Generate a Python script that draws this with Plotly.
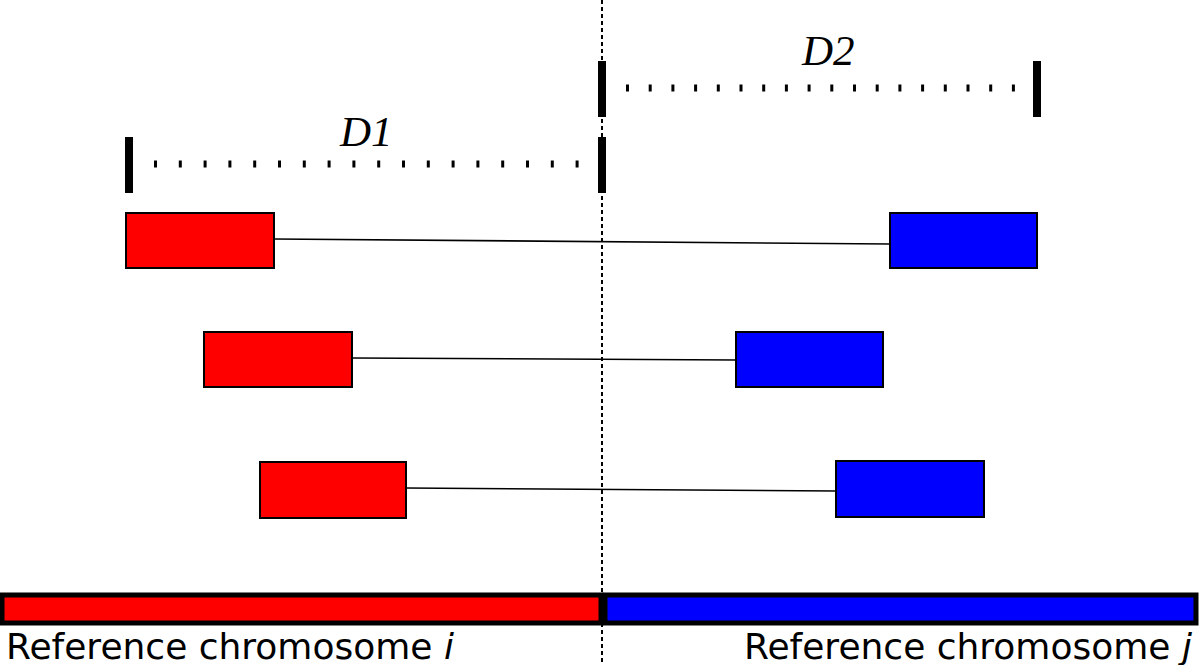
import plotly.graph_objects as go

# ---- data (pixel-like units of the diagram) ----
pair_rows = ["pair1", "pair2", "pair3"]
red_x0 = [126, 204, 260]
red_x1 = [274, 352, 406]
red_y0 = [213, 332, 462]
red_y1 = [268, 387, 518]
blue_x0 = [890, 736, 836]
blue_x1 = [1037, 883, 984]
blue_y0 = [213, 332, 461]
blue_y1 = [268, 387, 517]
link_y_start = [239, 358, 488]
link_y_end = [244, 360, 491]

breakpoint_x = 602

dist_labels = ["D1", "D2"]
dist_x0 = [129, 602]
dist_x1 = [602, 1037]
dist_bar_top = [137, 61]
dist_bar_bottom = [193, 117]
dist_dot_start = [154, 626]
dist_dot_end = [580, 1016]
dist_dot_y = [164, 88]
dist_dot_gap = [21.8, 19.7]
dist_label_x = [366, 828]
dist_label_y = [131, 50]

chrom_names = ["Reference chromosome <i>i</i>", "Reference chromosome <i>j</i>"]
chrom_x0 = [0, 603]
chrom_x1 = [603, 1198]
chrom_colors = ["#ff0000", "#0000ff"]
chrom_y0, chrom_y1 = 595, 623

W, H = 1200, 665

fig = go.Figure()
shapes = []
annotations = []

# chromosome bar
for x0, x1, c in zip(chrom_x0, chrom_x1, chrom_colors):
    shapes.append(dict(type="rect", xref="x", yref="y", x0=x0 + 2, x1=x1 - 2,
                       y0=chrom_y0, y1=chrom_y1, fillcolor=c,
                       line=dict(color="black", width=5), layer="below"))

# vertical breakpoint dashed line
fig.add_trace(go.Scatter(x=[breakpoint_x, breakpoint_x], y=[0, H], mode="lines",
                         line=dict(color="black", width=2, dash="4px,3px"),
                         hoverinfo="skip", showlegend=False))

# read pairs
for i in range(len(pair_rows)):
    fig.add_trace(go.Scatter(x=[red_x1[i], blue_x0[i]], y=[link_y_start[i], link_y_end[i]],
                             mode="lines", line=dict(color="black", width=1.6),
                             hoverinfo="skip", showlegend=False))
    shapes.append(dict(type="rect", xref="x", yref="y", x0=red_x0[i], x1=red_x1[i],
                       y0=red_y0[i], y1=red_y1[i], fillcolor="#ff0000",
                       line=dict(color="black", width=2)))
    shapes.append(dict(type="rect", xref="x", yref="y", x0=blue_x0[i], x1=blue_x1[i],
                       y0=blue_y0[i], y1=blue_y1[i], fillcolor="#0000ff",
                       line=dict(color="black", width=2)))

# distance markers
for k in range(len(dist_labels)):
    for xx in (dist_x0[k], dist_x1[k]):
        fig.add_trace(go.Scatter(x=[xx, xx], y=[dist_bar_top[k], dist_bar_bottom[k]],
                                 mode="lines", line=dict(color="black", width=8),
                                 hoverinfo="skip", showlegend=False))
    fig.add_trace(go.Scatter(x=[dist_dot_start[k], dist_dot_end[k]], y=[dist_dot_y[k]] * 2,
                             mode="lines",
                             line=dict(color="black", width=7, dash=f"3px,{dist_dot_gap[k]}px"),
                             hoverinfo="skip", showlegend=False))
    annotations.append(dict(x=dist_label_x[k], y=dist_label_y[k], xref="x", yref="y",
                            text=f"<i>{dist_labels[k]}</i>", showarrow=False,
                            font=dict(family="Liberation Serif", size=43, color="black"),
                            xanchor="center", yanchor="middle"))

# chromosome labels
annotations.append(dict(x=4, y=646, xref="x", yref="y", text=chrom_names[0], showarrow=False,
                        font=dict(family="DejaVu Sans", size=36, color="black"),
                        xanchor="left", yanchor="middle"))
annotations.append(dict(x=1194, y=646, xref="x", yref="y", text=chrom_names[1], showarrow=False,
                        font=dict(family="DejaVu Sans", size=36, color="black"),
                        xanchor="right", yanchor="middle"))

fig.update_layout(
    width=W, height=H,
    margin=dict(l=0, r=0, t=0, b=0),
    paper_bgcolor="white", plot_bgcolor="white",
    shapes=shapes, annotations=annotations,
    xaxis=dict(range=[0, W], visible=False, fixedrange=True),
    yaxis=dict(range=[H, 0], visible=False, fixedrange=True),
    showlegend=False,
)

fig.write_html(
    "out.html",
    config={"displayModeBar": False},
    post_script="document.body.style.margin='0';document.body.style.padding='0';"
                "document.body.style.overflow='hidden';",
)
